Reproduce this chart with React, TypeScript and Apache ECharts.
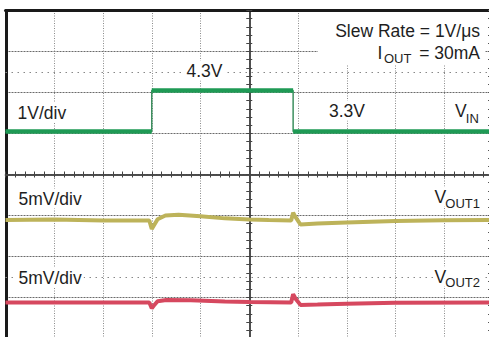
import React, { useEffect, useRef } from "react";
import * as echarts from "echarts";

// Time in horizontal divisions (10 divisions across the screen)
const vinTime = [0, 3.0, 3.0, 5.9, 5.9, 10];
const vinVolts = [3.3, 3.3, 4.3, 4.3, 3.3, 3.3];

// VOUT1 deviation from its nominal value, mV (5 mV/div)
const vout1Time = [0, 1.0, 2.0, 2.95, 3.0, 3.04, 3.12, 3.28, 3.55, 4.0, 4.5, 5.0, 5.4, 5.86, 5.9, 5.94, 6.05, 6.4, 7.0, 8.0, 9.0, 10];
const vout1mV = [0, 0.05, -0.05, -0.05, -1.1, -0.7, 0.1, 0.55, 0.65, 0.45, 0.2, 0.06, 0, -0.05, 0.9, 0.45, -0.55, -0.42, -0.3, -0.12, -0.02, 0];

// VOUT2 deviation from its nominal value, mV (5 mV/div)
const vout2Time = [0, 1.5, 2.95, 3.0, 3.04, 3.12, 3.3, 3.8, 4.5, 5.0, 5.86, 5.9, 5.95, 6.05, 6.4, 7.0, 8.0, 10];
const vout2mV = [0, 0, 0, -0.7, -0.4, 0.15, 0.3, 0.25, 0.12, 0.05, 0, 1.0, 0.45, -0.3, -0.25, -0.15, -0.05, 0];

// Screen labels
const scaleLabels = ["1V/div", "5mV/div", "5mV/div"];
const levelLabels = ["4.3V", "3.3V"];
const titleLines = ["Slew Rate = 1V/μs", "= 30mA"];

const FONT = '"Liberation Sans", Arial, Helvetica, sans-serif';
const TXT = "#1e1e1e";

function zip(t: number[], v: number[]) {
  return t.map((x, i) => [x, v[i]]);
}

function levelsOnly(t: number[], v: number[]) {
  const out: any[] = [];
  for (let i = 0; i < t.length; i++) {
    out.push([t[i], v[i]]);
    if (i < t.length - 1 && t[i + 1] === t[i]) out.push([t[i], "-"]);
  }
  return out;
}

function label(text: string, x: number, y: number, size = 17.5, align = "left", bg = true, pad: number[] = [1, 2]) {
  return {
    type: "text",
    x,
    y,
    z: 100,
    style: {
      text,
      fill: TXT,
      font: `${size}px ${FONT}`,
      align,
      textAlign: align,
      verticalAlign: "middle",
      textVerticalAlign: "middle",
      backgroundColor: bg ? "#fff" : undefined,
      padding: bg ? pad : 0,
    },
  };
}

export default function App() {
  const ref = useRef<HTMLDivElement>(null);
  useEffect(() => {
    if (!ref.current) return;
    const chart = echarts.init(ref.current, undefined, { renderer: "svg" });
    const hidden = (min: number, max: number) => ({
      type: "value",
      min,
      max,
      show: false,
      axisLine: { onZero: false },
    });
    const centerTicks = (inside: boolean) => ({
      axisLine: { show: true, onZero: true, onZeroAxisIndex: 1, lineStyle: { color: "#444", width: 1.5 } },
      axisTick: { show: true, inside, length: 3, lineStyle: { color: "#444", width: 1 } },
      minorTick: { show: true, splitNumber: 5, length: 3, lineStyle: { color: "#444", width: 1 } },
      axisLabel: { show: false },
    });
    chart.setOption({
      animation: false,
      backgroundColor: "#fff",
      grid: { left: 5.5, top: 10.5, width: 487.5, height: 328, containLabel: false, outerBoundsMode: "none" },
      xAxis: [
        {
          type: "value", min: 0, max: 10, interval: 1, position: "bottom",
          axisLine: { show: false, onZero: false }, axisTick: { show: false }, axisLabel: { show: false },
          splitLine: { show: true, lineStyle: { color: "#8a8a8a", width: 1, type: [1, 1.5] } },
        },
        { type: "value", min: -5, max: 5, interval: 1, position: "bottom", splitLine: { show: false }, ...centerTicks(true) },
        { type: "value", min: -5, max: 5, interval: 1, position: "bottom", splitLine: { show: false }, ...centerTicks(false) },
        {
          type: "value", min: 0, max: 10, interval: 1, position: "top",
          axisLine: { show: true, onZero: false, lineStyle: { color: "#1a1a1a", width: 3 } },
          axisTick: { show: false }, axisLabel: { show: false }, splitLine: { show: false },
        },
      ],
      yAxis: [
        hidden(-1.75, 6.25),
        {
          type: "value", min: -4, max: 4, interval: 1, position: "left",
          splitLine: { show: true, lineStyle: { color: "#6a6a6a", width: 1, type: [2, 1] } },
          ...centerTicks(true),
        },
        { type: "value", min: -4, max: 4, interval: 1, position: "left", splitLine: { show: false }, ...centerTicks(false) },
        {
          type: "value", min: -4, max: 4, interval: 1, position: "left", offset: -1,
          axisLine: { show: true, onZero: false, lineStyle: { color: "#1a1a1a", width: 3 } },
          axisTick: { show: false }, axisLabel: { show: false }, splitLine: { show: false },
        },
        hidden(-14.45, 25.55),
        hidden(-4.4, 35.6),
        {
          type: "value", min: -4, max: 4, interval: 1, position: "right",
          axisLine: { show: true, onZero: false, lineStyle: { color: "#555", width: 1 } },
          axisTick: { show: true, inside: true, length: 5, lineStyle: { color: "#555" } },
          minorTick: { show: true, splitNumber: 5, length: 5, lineStyle: { color: "#555" } },
          axisLabel: { show: false }, splitLine: { show: false },
        },
      ],
      series: [
        {
          type: "line", xAxisIndex: 1, yAxisIndex: 1, data: [], symbol: "none", silent: true,
          markLine: {
            symbol: "none", silent: true, label: { show: false },
            lineStyle: { type: [1.5, 4.5], color: "#888", width: 1 },
            data: [{ yAxis: 2.5 }, { yAxis: -2.5 }],
          },
        },
        {
          name: "VIN edges", type: "line", xAxisIndex: 0, yAxisIndex: 0, symbol: "none",
          data: zip(vinTime, vinVolts), lineStyle: { color: "#3d8f5f", width: 1.5 },
        },
        {
          name: "VIN", type: "line", xAxisIndex: 0, yAxisIndex: 0, symbol: "none", connectNulls: false,
          data: levelsOnly(vinTime, vinVolts), lineStyle: { color: "#1f9a55", width: 4.5 },
        },
        {
          name: "VOUT1", type: "line", xAxisIndex: 0, yAxisIndex: 4, symbol: "none",
          data: zip(vout1Time, vout1mV), lineStyle: { color: "#bdb35a", width: 4 },
        },
        {
          name: "VOUT2", type: "line", xAxisIndex: 0, yAxisIndex: 5, symbol: "none",
          data: zip(vout2Time, vout2mV), lineStyle: { color: "#d6485f", width: 4 },
        },
      ],
      graphic: [
        { type: "rect", z: 99, shape: { x: 318, y: 12.5, width: 167, height: 52 }, style: { fill: "#fff" } },
        label(titleLines[0], 480, 31, 17.5, "right", false),
        label("I", 377.5, 53, 17.5, "left", false),
        label("OUT", 384, 58.5, 13, "left", false),
        label(titleLines[1], 480, 53, 17.5, "right", false),
        label(scaleLabels[0], 15.5, 112.5),
        label(levelLabels[0], 184.5, 70.5),
        label(levelLabels[1], 327, 110.5),
        label("V", 454, 110.5, 17.5, "left", true, [1, 0, 1, 1]),
        label("IN", 465.8, 118.5, 13, "left", true, [1, 1, 1, 0]),
        label(scaleLabels[1], 16.5, 198.5),
        label("V", 433.5, 196.5, 17.5, "left", true, [1, 0, 1, 1]),
        label("OUT1", 445.3, 203, 13, "left", true, [1, 1, 1, 0]),
        label(scaleLabels[2], 16.5, 277.5),
        label("V", 433.5, 276.5, 17.5, "left", true, [1, 0, 1, 1]),
        label("OUT2", 445.3, 282.5, 13, "left", true, [1, 1, 1, 0]),
      ],
    });
    return () => chart.dispose();
  }, []);
  return (
    <div
      ref={ref}
      style={{ position: "fixed", left: 0, top: 0, width: 489, height: 337, background: "#fff" }}
    />
  );
}
